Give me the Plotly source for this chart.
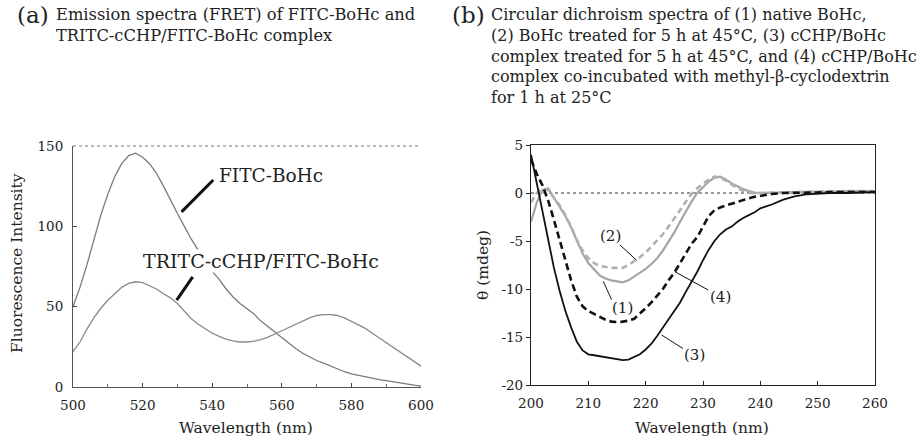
import plotly.graph_objects as go

# ---------------- data: panel (a) ----------------
wl_a = [500, 502, 504, 506, 508, 510, 512, 514, 516, 518, 520, 522, 524, 526, 528,
        530, 532, 534, 536, 538, 540, 542, 544, 546, 548, 550, 552, 554, 556, 558,
        560, 562, 564, 566, 568, 570, 572, 574, 576, 578, 580, 582, 584, 586, 588,
        590, 592, 594, 596, 598, 600]
fitc_bohc = [50, 62, 76, 92, 107, 120, 131, 139, 144, 145.5, 143, 139, 133, 125, 116,
             108, 100, 92, 85, 78, 72, 67, 61, 56, 52, 49, 45.5, 41, 37.5, 34.5,
             31, 27.5, 24, 21, 18.5, 16.5, 14.8, 13, 11, 9.5, 8.2, 7.2, 6.2, 5.3, 4.6,
             4, 3.2, 2.4, 1.7, 1.1, 0.6]
tritc_complex = [22, 28, 36, 43, 49, 54, 58, 62, 64.5, 65.5, 65, 63, 61, 58, 55.5,
                 52, 47, 42.5, 39, 36, 33.5, 31.5, 29.8, 28.7, 28, 28, 28.5, 29.5, 31, 33,
                 35, 37, 39.5, 41.5, 43, 44.5, 45, 45, 44.5, 43, 41, 39, 36.5, 33.5, 30.5,
                 27.5, 24.5, 21.5, 18.5, 15.8, 13]
x_ticks_a = [500, 520, 540, 560, 580, 600]
y_ticks_a = [0, 50, 100, 150]

# ---------------- data: panel (b) ----------------
wl_b = [200, 201, 202, 203, 204, 205, 206, 207, 208, 209, 210, 211, 212, 213, 214,
        215, 216, 217, 218, 219, 220, 221, 222, 223, 224, 225, 226, 227, 228, 229,
        230, 231, 232, 233, 234, 235, 236, 237, 238, 239, 240, 242, 244, 246, 248,
        250, 252, 255, 258, 260]
cd_native = [-3, -1, 0.3, 0.5, -0.5, -1.4, -2.4, -3.6, -5, -6.3, -7.3, -8, -8.6, -8.9, -9.1,
             -9.2, -9.3, -9.1, -8.7, -8.3, -7.9, -7.4, -6.8, -6, -5.1, -4.1, -3, -1.9, -0.9, 0,
             0.6, 1.2, 1.6, 1.7, 1.4, 1.0, 0.7, 0.4, 0.2, 0.05, 0, 0, 0.05, 0.1, 0.1,
             0.15, 0.15, 0.2, 0.2, 0.2]
cd_heated = [-1, 0, 0.5, 0.3, -0.5, -1.3, -2.3, -3.5, -4.9, -6, -6.8, -7.3, -7.6, -7.7, -7.8,
             -7.8, -7.8, -7.5, -7.1, -6.7, -6.2, -5.6, -5, -4.3, -3.5, -2.7, -1.8, -0.9, -0.1, 0.5,
             1, 1.4, 1.7, 1.6, 1.3, 0.9, 0.5, 0.2, 0, 0, 0, 0, 0.05, 0.1, 0.1,
             0.15, 0.15, 0.2, 0.2, 0.2]
cd_complex_heated = [4, 1, -2, -4.8, -7.8, -10.2, -12.3, -14, -15.5, -16.4, -16.8, -16.9, -17, -17.1, -17.2,
                     -17.3, -17.4, -17.35, -17.1, -16.8, -16.3, -15.7, -14.9, -14, -13.1, -12.2, -11.4, -10.3, -9.3, -8.2,
                     -7, -5.9, -5, -4.3, -3.8, -3.5, -3, -2.6, -2.3, -2, -1.6, -1.2, -0.7, -0.35, -0.15,
                     -0.05, 0, 0, 0.05, 0.1]
cd_cyclodextrin = [3.5, 2, 0.8, -0.8, -2.8, -4.8, -7, -9.1, -10.8, -11.8, -12.3, -12.6, -12.9, -13.2, -13.4,
                   -13.45, -13.4, -13.3, -13.1, -12.6, -12, -11.4, -10.7, -10, -9.1, -8.3, -7.3, -6.3, -5.3, -4.6,
                   -3.5, -2.4, -1.8, -1.5, -1.3, -1.1, -0.9, -0.7, -0.55, -0.4, -0.3, -0.1, 0, 0, 0.05,
                   0.05, 0.1, 0.1, 0.1, 0.1]
x_ticks_b = [200, 210, 220, 230, 240, 250, 260]
y_ticks_b = [-20, -15, -10, -5, 0, 5]
y_ticktext_b = ["-20", "-15", "-10", "-5", "0", "5"]

FONT = "DejaVu Serif"
W, H = 922, 441
INK = "#222"

fig = go.Figure()

# panel (a)
fig.add_trace(go.Scatter(x=wl_a, y=fitc_bohc, mode="lines", line=dict(color="#7a7a7a", width=1.3),
                         xaxis="x", yaxis="y", showlegend=False))
fig.add_trace(go.Scatter(x=wl_a, y=tritc_complex, mode="lines", line=dict(color="#8a8a8a", width=1.3),
                         xaxis="x", yaxis="y", showlegend=False))

# panel (b)
fig.add_trace(go.Scatter(x=[x_ticks_b[0], x_ticks_b[-1]], y=[0, 0], mode="lines",
                         line=dict(color="#333", width=1.2, dash="dot"),
                         xaxis="x2", yaxis="y2", showlegend=False))
fig.add_trace(go.Scatter(x=wl_b, y=cd_native, mode="lines", line=dict(color="#a6a6a6", width=2.2),
                         xaxis="x2", yaxis="y2", showlegend=False))
fig.add_trace(go.Scatter(x=wl_b, y=cd_heated, mode="lines", line=dict(color="#b0b0b0", width=2.6, dash="6px,4px"),
                         xaxis="x2", yaxis="y2", showlegend=False))
fig.add_trace(go.Scatter(x=wl_b, y=cd_complex_heated, mode="lines", line=dict(color="#111", width=1.8),
                         xaxis="x2", yaxis="y2", showlegend=False))
fig.add_trace(go.Scatter(x=wl_b, y=cd_cyclodextrin, mode="lines", line=dict(color="#111", width=2.6, dash="7px,4px"),
                         xaxis="x2", yaxis="y2", showlegend=False))

tick_font = dict(family=FONT, size=13.5, color=INK)

fig.update_layout(
    width=W, height=H,
    margin=dict(l=0, r=0, t=0, b=0, autoexpand=False),
    paper_bgcolor="white", plot_bgcolor="white",
    xaxis=dict(domain=[73 / W, 421 / W], range=[500, 600], tickvals=x_ticks_a, automargin=False,
               ticks="inside", ticklen=4, tickcolor="#444",
               minor=dict(dtick=10, ticks="inside", ticklen=3, tickcolor="#666"),
               showline=True, linecolor="#555", linewidth=1, mirror=False,
               showgrid=False, zeroline=False, tickfont=tick_font, ticklabelstandoff=6),
    yaxis=dict(domain=[(H - 387) / H, (H - 146) / H], range=[0, 150], tickvals=y_ticks_a, automargin=False,
               ticks="inside", ticklen=4, tickcolor="#444",
               showline=True, linecolor="#555", linewidth=1,
               showgrid=False, zeroline=False, tickfont=tick_font, ticklabelstandoff=6),
    xaxis2=dict(domain=[531 / W, 875 / W], range=[200, 260], tickvals=x_ticks_b, automargin=False,
                ticks="inside", ticklen=4, tickcolor="#222", anchor="y2",
                showline=True, linecolor="#222", linewidth=1.2, mirror=True,
                showgrid=False, zeroline=False, tickfont=tick_font, ticklabelstandoff=6),
    yaxis2=dict(domain=[(H - 385) / H, (H - 145) / H], range=[-20, 5], tickvals=y_ticks_b, automargin=False,
                ticktext=y_ticktext_b, anchor="x2",
                ticks="outside", ticklen=4, tickcolor="#222",
                showline=True, linecolor="#222", linewidth=1.2, mirror=True,
                showgrid=False, zeroline=False, tickfont=tick_font),
)

# top frame line of panel (a)
fig.add_shape(type="line", xref="x domain", yref="y domain", x0=0, x1=1, y0=1, y1=1,
              line=dict(color="#777", width=1, dash="dot"))

def px_ann(x, y, text, size, **kw):
    d = dict(xref="paper", yref="paper", x=x / W, y=1 - y / H, text=text, showarrow=False,
             font=dict(family=FONT, size=size, color=INK), xanchor="center", yanchor="middle")
    d.update(kw)
    return d

anns = []
# titles
anns.append(px_ann(51, 0, "(a)", 23, xanchor="right", yanchor="top"))
anns.append(px_ann(54, 3, "Emission spectra (FRET) of FITC-BoHc and<br>TRITC-cCHP/FITC-BoHc complex", 16.3,
                   xanchor="left", yanchor="top", align="left"))
anns.append(px_ann(487, 0, "(b)", 23, xanchor="right", yanchor="top"))
anns.append(px_ann(489, 3, "Circular dichroism spectra of (1) native BoHc,<br>"
                           "(2) BoHc treated for 5 h at 45°C, (3) cCHP/BoHc<br>"
                           "complex treated for 5 h at 45°C, and (4) cCHP/BoHc<br>"
                           "complex co-incubated with methyl-β-cyclodextrin<br>"
                           "for 1 h at 25°C", 16,
                   xanchor="left", yanchor="top", align="left"))
# axis titles
anns.append(px_ann(17, 263, "Fluorescence Intensity", 15.5, textangle=-90))
anns.append(px_ann(246, 428, "Wavelength (nm)", 15.5))
anns.append(px_ann(483, 265, "θ (mdeg)", 15.5, textangle=-90))
anns.append(px_ann(702, 428, "Wavelength (nm)", 15.5))

# curve labels, panel (a)
anns.append(dict(xref="x", yref="y", x=541.5, y=131.5, xanchor="left", yanchor="middle", text="FITC-BoHc",
                 showarrow=False, font=dict(family=FONT, size=18.5, color=INK)))
anns.append(dict(xref="x", yref="y", x=519.8, y=78.5, xanchor="left", yanchor="middle", text="TRITC-cCHP/FITC-BoHc",
                 showarrow=False, bgcolor="white", borderpad=0, font=dict(family=FONT, size=19, color=INK)))
# curve labels, panel (b)
for txt, lx, ly in [("(1)", 216.0, -12.0), ("(2)", 213.9, -4.5), ("(3)", 228.6, -16.9), ("(4)", 233.0, -10.8)]:
    anns.append(dict(xref="x2", yref="y2", x=lx, y=ly, text=txt, showarrow=False,
                     xanchor="center", yanchor="middle",
                     font=dict(family=FONT, size=15, color=INK)))
fig.update_layout(annotations=anns)

# pointer lines
for (x0, y0, x1, y1) in [(531.2, 109, 540.3, 128.8), (529.8, 54.1, 534.4, 68.6)]:
    fig.add_shape(type="line", xref="x", yref="y", x0=x0, y0=y0, x1=x1, y1=y1,
                  line=dict(color="#111", width=3))
for (x0, y0, x1, y1) in [(214.05, -11.1, 212.6, -9.2), (215.5, -5.4, 218.4, -7.0),
                         (226.5, -16.2, 222.8, -14.8), (230.9, -10.1, 225.1, -8.2)]:
    fig.add_shape(type="line", xref="x2", yref="y2", x0=x0, y0=y0, x1=x1, y1=y1,
                  line=dict(color="#111", width=1))

fig.write_html("out.html", config={"displayModeBar": False},
               post_script="document.body.style.margin='0';document.body.style.overflow='hidden';")
